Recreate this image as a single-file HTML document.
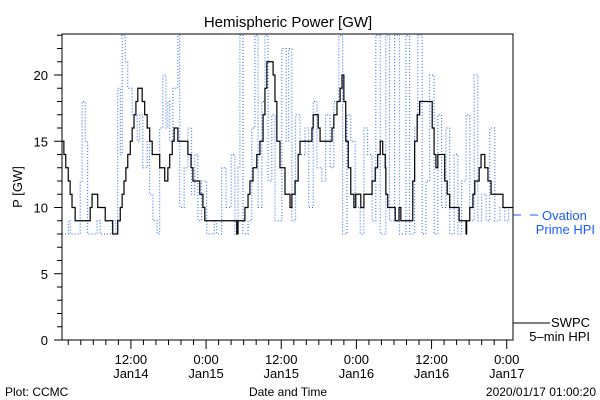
<!DOCTYPE html>
<html><head><meta charset="utf-8"><style>
html,body{margin:0;padding:0;background:#fff;}
svg{display:block;font-family:"Liberation Sans",sans-serif;}
</style></head><body>
<svg id="chart" width="600" height="400" viewBox="0 0 600 400">
<text x="288" y="27" font-size="15" text-anchor="middle">Hemispheric Power [GW]</text>
<text transform="translate(22,187) rotate(-90)" font-size="13" text-anchor="middle">P [GW]</text>
<text x="5" y="396" font-size="12">Plot: CCMC</text>
<text x="288" y="396" font-size="12" text-anchor="middle">Date and Time</text>
<text x="596" y="396" font-size="12" text-anchor="end">2020/01/17 01:00:20</text>
<g>
<line x1="513" y1="215" x2="521" y2="215" stroke="#1a5cff"/>
<line x1="530" y1="215" x2="538" y2="215" stroke="#1a5cff"/>
<text x="542" y="220" font-size="13" fill="#1a5cff">Ovation</text>
<text x="595" y="234" font-size="13" fill="#1a5cff" text-anchor="end">Prime HPI</text>
</g>
<g>
<line x1="513" y1="323" x2="550" y2="323" stroke="#000"/>
<text x="590" y="327" font-size="13" text-anchor="end">SWPC</text>
<text x="590" y="341" font-size="13" text-anchor="end">5–min HPI</text>
</g>
<g id="plot"></g>
</svg>
<script>
const yTicks=[0,5,10,15,20];
const xTickHours=[11,23,35,47,59,71];
const xTickLine1=["12:00","0:00","12:00","0:00","12:00","0:00"];
const xTickLine2=["Jan14","Jan15","Jan15","Jan16","Jan16","Jan17"];
const swpcT=[0,0.3,0.6,1.0,1.3,1.6,2.1,4.5,4.8,5.7,6.9,8.1,8.9,9.3,9.6,9.9,10.2,10.5,10.9,11.2,11.5,11.8,12.1,12.8,13.2,13.6,14.0,14.4,15.6,16.4,16.9,17.2,17.6,17.9,18.5,20.1,20.6,20.9,22.0,22.5,22.8,27.9,28.1,29.2,29.7,30.0,30.5,31.1,31.6,32.1,32.4,32.7,33.7,34.0,34.3,34.8,35.6,36.4,36.7,37.2,37.7,38.0,39.9,40.1,40.9,41.2,43.1,43.4,43.9,44.4,44.7,45.0,45.3,45.7,46.1,46.6,46.9,47.7,48.2,49.5,50.0,50.4,50.8,51.2,51.6,51.7,52.0,53.2,53.8,54.1,56.0,56.3,56.7,57.1,59.1,59.4,59.7,60.0,61.1,61.5,61.9,63.4,64.5,64.6,65.1,65.6,65.9,66.6,66.9,67.5,68.0,68.5,70.4];
const swpcV=[15,14,13,12,11,10,9,10,11,10,9,8,9,10,11,12,13,14,15,16,17,18,19,18,17,16,15,14,13,12,13,14,15,16,15,14,13,12,11,10,9,8,9,10,11,12,13,14,15,17,19,21,20,18,15,13,11,10,11,12,14,15,16,17,16,15,16,17,18,19,20,18,15,13,11,10,11,10,11,12,13,14,15,14,13,11,10,9,10,9,12,15,17,18,16,14,13,14,12,11,10,9,8,9,10,11,12,13,14,13,12,11,10];
const ovT=[0,1.0,1.3,2.9,3.2,3.7,4.1,5.6,6.1,8.0,8.6,8.9,9.3,9.6,10.1,10.5,11.2,12.0,12.4,12.9,13.6,14.0,14.5,15.2,15.6,16.1,16.6,16.9,17.2,17.7,18.5,18.8,19.5,20.1,20.7,21.2,21.7,22.3,23.1,24.3,24.7,25.5,26.2,27.0,27.6,28.1,28.4,28.9,29.7,30.3,30.8,31.3,31.9,32.4,32.9,33.5,34.0,34.6,35.1,35.8,36.2,36.7,37.3,38.0,38.8,39.4,40.1,40.7,41.5,42.1,42.8,43.4,44.2,44.8,45.5,46.1,46.8,47.6,48.2,48.8,49.5,50.1,50.8,51.7,52.3,53.1,53.9,54.9,55.5,56.3,56.8,57.5,58.1,58.7,59.4,60.0,60.6,61.3,61.9,62.6,63.2,63.8,64.5,65.1,65.8,66.4,67.0,67.7,68.3,69.1,69.9,70.7,71.3];
const ovV=[8,9,8,12,18,15,8,9,8,9,8,19,14,23,21,19,17,15,17,13,15,11,9,8,16,20,16,18,15,19,23,10,13,16,11,14,9,12,8,9,8,13,10,14,8,13,23,8,9,16,23,10,18,23,12,17,9,9,22,15,22,9,17,14,16,10,18,13,12,17,13,18,23,8,17,15,10,8,16,14,9,23,8,23,9,23,8,23,8,16,23,8,12,20,8,17,10,16,8,14,8,12,17,9,20,9,11,9,16,9,10,9,10];
const X0=62,X1=513,Y0=340,YT=34,HOURS=72,VMAX=(340-34)/13.25;
function xs(h){return X0+h*(X1-X0)/HOURS;}
function ys(v){return Y0-v*13.25;}
const NS="http://www.w3.org/2000/svg";
const g=document.getElementById('plot');
function mk(tag,attrs){const e=document.createElementNS(NS,tag);for(const k in attrs)e.setAttribute(k,attrs[k]);g.appendChild(e);return e;}
function stepPath(T,V){let d="M"+xs(T[0])+","+ys(V[0]);for(let i=1;i<T.length;i++){d+="H"+xs(T[i])+"V"+ys(V[i]);}d+="H"+X1;return d;}
const defs=document.createElementNS(NS,'defs');
defs.innerHTML='<clipPath id="clip"><rect x="62" y="34" width="451" height="306"/></clipPath>';
g.appendChild(defs);
const ov=mk('path',{d:stepPath(ovT,ovV),fill:'none',stroke:'#1a5cff','stroke-width':1,'stroke-dasharray':'1,2','clip-path':'url(#clip)'});


const sw=mk('path',{d:stepPath(swpcT,swpcV),fill:'none',stroke:'#000','stroke-width':1.2,'clip-path':'url(#clip)'});


const fr=mk('rect',{x:X0,y:YT,width:X1-X0,height:Y0-YT,fill:'none',stroke:'#000','stroke-width':1});


for(let v=0;v<=23;v++){
  const major=v%5===0;
  const t=mk('line',{x1:X0-(major?8:5),x2:X0,y1:ys(v),y2:ys(v),stroke:'#000'});
  
  
}
yTicks.forEach(v=>{
  const t=mk('text',{x:X0-14,y:ys(v)+5,'font-size':13,'text-anchor':'end'});
  t.textContent=v;
  
  
});
for(let h=1;h<HOURS;h+=2){
  const major=xTickHours.includes(h);
  const t=mk('line',{x1:xs(h),x2:xs(h),y1:Y0,y2:Y0+(major?9:5),stroke:'#000'});
  
  
}
xTickHours.forEach((h,i)=>{
  const a=mk('text',{x:xs(h),y:364,'font-size':13,'text-anchor':'middle'});
  a.textContent=xTickLine1[i];
  
  
  const b=mk('text',{x:xs(h),y:378,'font-size':13,'text-anchor':'middle'});
  b.textContent=xTickLine2[i];
  
  
});
</script>
</body></html>
